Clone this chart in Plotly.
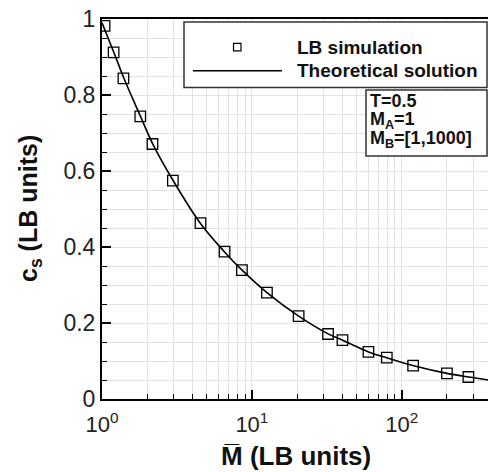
import plotly.graph_objects as go

# Data
sim_M = [1.04, 1.195, 1.39, 1.80, 2.17, 2.97, 4.54, 6.57, 8.58, 12.6, 20.5, 32.2, 40.2, 59.9, 79.4, 119, 200, 278]
sim_c = [0.982, 0.912, 0.844, 0.744, 0.671, 0.5745, 0.463, 0.388, 0.339, 0.280, 0.218, 0.171, 0.155, 0.124, 0.109, 0.0877, 0.0676, 0.0579]

theory_M = [1.0, 1.2, 1.4, 1.8, 2.2, 3.0, 4.5, 6.5, 8.6, 12.6, 20.5, 32, 40, 60, 80, 120, 200, 280, 376]
theory_c = [0.99, 0.912, 0.844, 0.745, 0.668, 0.573, 0.464, 0.389, 0.339, 0.280, 0.218, 0.172, 0.155, 0.124, 0.108, 0.0875, 0.0675, 0.0578, 0.050]

x_tickvals = [1, 10, 100]
x_ticktext = ["10<sup>0</sup>", "10<sup>1</sup>", "10<sup>2</sup>"]
y_tickvals = [0, 0.2, 0.4, 0.6, 0.8, 1.0]
y_ticktext = ["0", "0.2", "0.4", "0.6", "0.8", "1"]

x_range_log = [0, 2.575]
y_range = [0, 1]

W, H = 488, 472
L, R, T, B = 102, 0, 19, 73
PW, PH = W - L - R, H - T - B


def px(x):
    return (x - L) / PW


def py(y):
    return (H - B - y) / PH


FONT = "Liberation Sans, Arial, Helvetica, sans-serif"

fig = go.Figure()
fig.add_trace(go.Scatter(x=theory_M, y=theory_c, mode="lines", line=dict(color="black", width=1.6, shape="spline"),
                         name="Theoretical solution", showlegend=False))
fig.add_trace(go.Scatter(x=sim_M, y=sim_c, mode="markers",
                         marker=dict(symbol="square-open", size=10.5, color="black", line=dict(width=1.3, color="black")),
                         name="LB simulation", showlegend=False))

grid = "#e3e3e3"
fig.update_xaxes(type="log", range=x_range_log, showline=True, linecolor="black", linewidth=2, mirror=True,
                 ticks="inside", ticklen=9, tickwidth=1.5, tickcolor="black",
                 tickvals=x_tickvals, ticktext=x_ticktext, ticklabelstandoff=5,
                 showgrid=True, gridcolor=grid, gridwidth=1, zeroline=False,
                 tickfont=dict(family=FONT, size=22, color="#222"),
                 minor=dict(ticks="inside", ticklen=5, tickwidth=1.2, tickcolor="black", dtick="D1",
                            showgrid=True, gridcolor=grid, gridwidth=1))
fig.update_yaxes(range=y_range, showline=True, linecolor="black", linewidth=2, mirror=False,
                 ticks="inside", ticklen=9, tickwidth=1.5, tickcolor="black",
                 tickvals=y_tickvals, ticktext=y_ticktext,
                 showgrid=True, gridcolor=grid, gridwidth=1, zeroline=False,
                 tickfont=dict(family=FONT, size=23, color="#222"),
                 minor=dict(ticks="inside", ticklen=5, tickwidth=1.2, tickcolor="black", dtick=0.05,
                            showgrid=True, gridcolor=grid, gridwidth=1))

shapes = []
annotations = []
# axis titles
annotations.append(dict(xref="paper", yref="paper", x=px(296), y=py(456), xanchor="center", yanchor="middle",
                        text="<b>M\u0305 (LB units)</b>", showarrow=False, font=dict(family=FONT, size=26, color="#111")))
annotations.append(dict(xref="paper", yref="paper", x=px(30), y=py(209), xanchor="center", yanchor="middle",
                        textangle=-90, text="<b>c<sub>s</sub> (LB units)</b>", showarrow=False,
                        font=dict(family=FONT, size=25, color="#111")))
# legend box
shapes.append(dict(type="rect", xref="paper", yref="paper", x0=px(184), x1=px(487), y0=py(87.5), y1=py(22),
                   line=dict(color="#333", width=1.5), fillcolor="white", layer="above"))
# legend line sample
shapes.append(dict(type="line", xref="paper", yref="paper", x0=px(193), x1=px(282), y0=py(70.7), y1=py(70.7),
                   line=dict(color="black", width=1.6), layer="above"))
# legend marker sample
shapes.append(dict(type="rect", xref="paper", yref="paper", x0=px(233.5), x1=px(241), y0=py(50.8), y1=py(43.3),
                   line=dict(color="black", width=1.2), fillcolor="white", layer="above"))
annotations.append(dict(xref="paper", yref="paper", x=px(295), y=py(47), xanchor="left", yanchor="middle",
                        text="<b>LB simulation</b>", showarrow=False, font=dict(family=FONT, size=19, color="#111")))
annotations.append(dict(xref="paper", yref="paper", x=px(295), y=py(70.7), xanchor="left", yanchor="middle",
                        text="<b>Theoretical solution</b>", showarrow=False, font=dict(family=FONT, size=19, color="#111")))
# parameter box
shapes.append(dict(type="rect", xref="paper", yref="paper", x0=px(366), x1=px(487), y0=py(156), y1=py(90),
                   line=dict(color="#333", width=1.5), fillcolor="white", layer="above"))
param_lines = ["<b>T=0.5</b>", "<b>M<sub>A</sub>=1</b>", "<b>M<sub>B</sub>=[1,1000]</b>"]
param_y = [101.5, 120.5, 139.5]
for txt, yy in zip(param_lines, param_y):
    annotations.append(dict(xref="paper", yref="paper", x=px(368), y=py(yy), xanchor="left", yanchor="middle",
                            align="left", text=txt, showarrow=False, font=dict(family=FONT, size=18, color="#111")))

fig.update_layout(width=W, height=H, margin=dict(l=L, r=R, t=T, b=B), plot_bgcolor="white", paper_bgcolor="white",
                  shapes=shapes, annotations=annotations, showlegend=False)
fig.write_html("out.html", config={"displayModeBar": False},
               post_script="document.body.style.margin='0';document.body.style.padding='0';")
